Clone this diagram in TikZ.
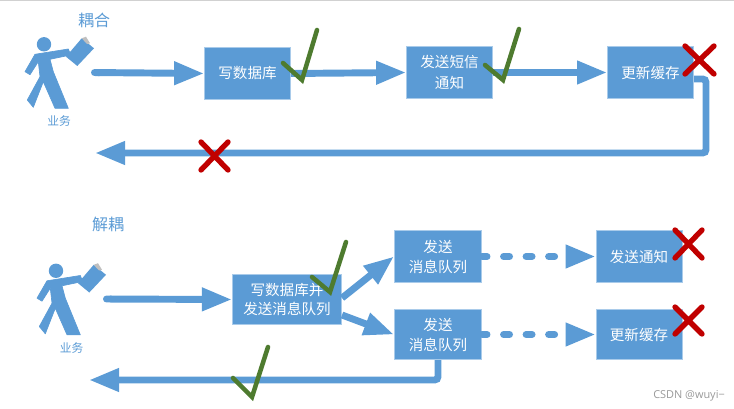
\documentclass[tikz,border=0pt]{standalone}
\usepackage{fontspec}
\setmainfont{Noto Sans CJK SC}
\newfontfamily\wmfont{Open Sans}
\usetikzlibrary{arrows.meta}
\definecolor{flow}{HTML}{5B9BD5}
\definecolor{okgreen}{HTML}{4E7B2F}
\definecolor{nored}{HTML}{C00000}
\definecolor{edgeblue}{HTML}{A9CBEA}
\tikzset{
  x=0.75pt,y=-0.75pt,
  box/.style={fill=flow,draw=edgeblue,line width=0.6pt,text=white,inner sep=0pt,align=center,
    font=\fontsize{10.9}{15}\selectfont},
  flowline/.style={draw=flow,line width=5.2pt,-{Triangle[length=22.5pt,width=16.5pt]},rounded corners=2.5pt},
  flowround/.style={flowline,{Round Cap[]}-{Triangle[length=22.5pt,width=16.5pt]}},
  flowdash/.style={flowline,line cap=round,dash pattern=on 4.5pt off 12.4pt,dash phase=0.8pt},
  tick/.style={draw=okgreen,line width=3.4pt,line cap=round,line join=miter},
  cross/.style={draw=nored,line width=4pt,line cap=round},
  title/.style={text=flow,font=\fontsize{12}{14}\selectfont,inner sep=0pt},
  who/.style={text=flow,font=\fontsize{8.8}{10}\selectfont,inner sep=0pt},
  person/.pic={
    \fill[flow] (44,44.3) circle (7.2);
    \filldraw[flow,line width=0.5pt,line join=round] (35,54.3)--(68.3,49)--(70.7,55)--(50,59.3)--(53.3,71.7)--(68.3,108.3)--(55,108.3)--(43.3,81.7)--(33.3,107.3)--(27.3,100)--(40,76.7)--(38.3,61.7)--(30,74.7)--(25,71.7)--cycle;
    \fill[flow] (66,56.7)--(81.7,38.3)--(94,48.3)--(77.3,66)--cycle;
    \fill[black!25] (81.7,38.3)--(86,36.7)--(90,43.3)--(87,44)--cycle;
  }
}
\begin{document}
\begin{tikzpicture}
\useasboundingbox (0,0) rectangle (734,409);
\fill[black!18] (0,0) rectangle (734,1.5);

% titles and actors
\node[title] (t1) at (94,20) {耦合};
\node[title] (t2) at (108,224) {解耦};
\pic at (0,0) {person};
\pic at (12,226.5) {person};
\node[who] (w1) at (59,120.7) {业务};
\node[who] (w2) at (71.5,347.7) {业务};

% boxes
\node[box,minimum width=64.5pt,minimum height=39.5pt] (b1) at (247.5,73.5) {写数据库};
\node[box,minimum width=64.5pt,minimum height=39.5pt,font=\fontsize{10.9}{15.7}\selectfont] (b2) at (449.5,72.5) {发送短信\\通知};
\node[box,minimum width=64.5pt,minimum height=39.5pt] (b3) at (650.5,72.5) {更新缓存};
\node[box,minimum width=82pt,minimum height=38pt,font=\fontsize{10.9}{14.3}\selectfont] (c1) at (287,299.5) {写数据库并\\发送消息队列};
\node[box,minimum width=65.5pt,minimum height=39.5pt] (c2) at (438,256.5) {发送\\消息队列};
\node[box,minimum width=65.5pt,minimum height=38pt] (c3) at (438,334.5) {发送\\消息队列};
\node[box,minimum width=64.5pt,minimum height=39.5pt] (d1) at (639,256.5) {发送通知};
\node[box,minimum width=64.5pt,minimum height=38pt] (d2) at (639,334.5) {更新缓存};

% free ends
\coordinate (s1) at (91,72.5);
\coordinate (s2) at (103,299);
\coordinate (r1) at (694,79);
\coordinate (e1) at (95,153);
\coordinate (e2) at (89,380);
\coordinate (c1a) at (342,298);
\coordinate (c1b) at (342,315);

% connectors
\draw[flowround] (s1) -- (b1.west);
\draw[flowline] (b1.east) -- (b2.west);
\draw[flowline] (b2.east) -- (b3.west);
\draw[flowline] (r1) -- (706,79) -- (706,153) -- (e1);
\draw[flowround] (s2) -- (c1.west);
\draw[flowline] (c1a) -- (c2.west);
\draw[flowline] (c1b) -- (c3.west);
\draw[flowdash] (c2.east) -- (d1.west);
\draw[flowdash] (c3.east) -- (d2.west);
\draw[flowline] (c3.south) -- (438,380) -- (e2);

% checks
\draw[tick] (283,63) -- (302,80) -- (317,30);
\draw[tick] (485,65) -- (503,80) -- (519,29);
\draw[tick] (312,277) -- (330,292) -- (346,242);
\draw[tick] (233,378) -- (252,397) -- (268,347);

% crosses
\draw[cross] (201,142) -- (228,170) (228,142) -- (201,170);
\draw[cross] (685,46) -- (714,74) (714,46) -- (685,74);
\draw[cross] (675,230) -- (702,258) (702,230) -- (675,258);
\draw[cross] (675,307) -- (702,334) (702,307) -- (675,334);

% watermark
\node[text=black!40,font=\wmfont\fontsize{8.2}{10}\selectfont,inner sep=0pt] (wm) at (689,396) {CSDN @wuyi−};
\end{tikzpicture}
\end{document}
